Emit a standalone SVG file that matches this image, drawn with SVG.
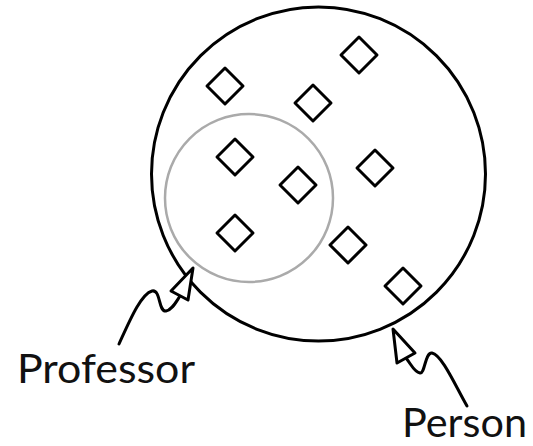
<svg xmlns="http://www.w3.org/2000/svg" width="533" height="446" viewBox="0 0 533 446">
<style>
.set{fill:none;stroke:#000;stroke-width:3}
.sub{fill:none;stroke:#aaaaaa;stroke-width:2.5}
.el{fill:#fff;stroke:#000;stroke-width:3;stroke-linejoin:round}
.con{fill:none;stroke:#000;stroke-width:3;stroke-linecap:round;stroke-linejoin:round}
.head{fill:#fff;stroke:#000;stroke-width:3;stroke-linejoin:round}
.lbl{font-family:Lato,"Open Sans","DejaVu Sans",sans-serif;font-size:40px;fill:#111}
</style>
<defs>
<path id="d" d="M0,-18 L18,0 L0,18 L-18,0 Z"/>
</defs>
<g id="person">
<circle class="set" cx="318.5" cy="174" r="167"/>
</g>
<g id="professor">
<circle class="sub" cx="249" cy="198" r="84"/>
</g>
<g id="elements">
<use href="#d" class="el" x="225" y="86"/>
<use href="#d" class="el" x="313" y="103"/>
<use href="#d" class="el" x="359" y="55"/>
<use href="#d" class="el" x="235" y="157"/>
<use href="#d" class="el" x="298" y="185"/>
<use href="#d" class="el" x="235" y="233"/>
<use href="#d" class="el" x="375" y="168"/>
<use href="#d" class="el" x="348" y="245"/>
<use href="#d" class="el" x="403" y="286"/>
</g>
<g id="connectors">
<path class="con" d="M119,344 C130,320 141,294 152,291 C161,289 158,312 166,311 C172,310 176,302 180,296"/>
<path class="head" d="M193,268 L171,291 L188,300 Z"/>
<path class="con" d="M467,406 C455,385 442,355 432,353 C425,352 425,374 420,373 C414,372 411,364 406,358"/>
<path class="head" d="M393,329 L397,363 L415,353 Z"/>
</g>
<g id="labels">
<text class="lbl" x="17" y="383" textLength="178" lengthAdjust="spacingAndGlyphs">Professor</text>
<text class="lbl" x="402" y="437" font-size="38" textLength="125" lengthAdjust="spacingAndGlyphs">Person</text>
</g>
</svg>
